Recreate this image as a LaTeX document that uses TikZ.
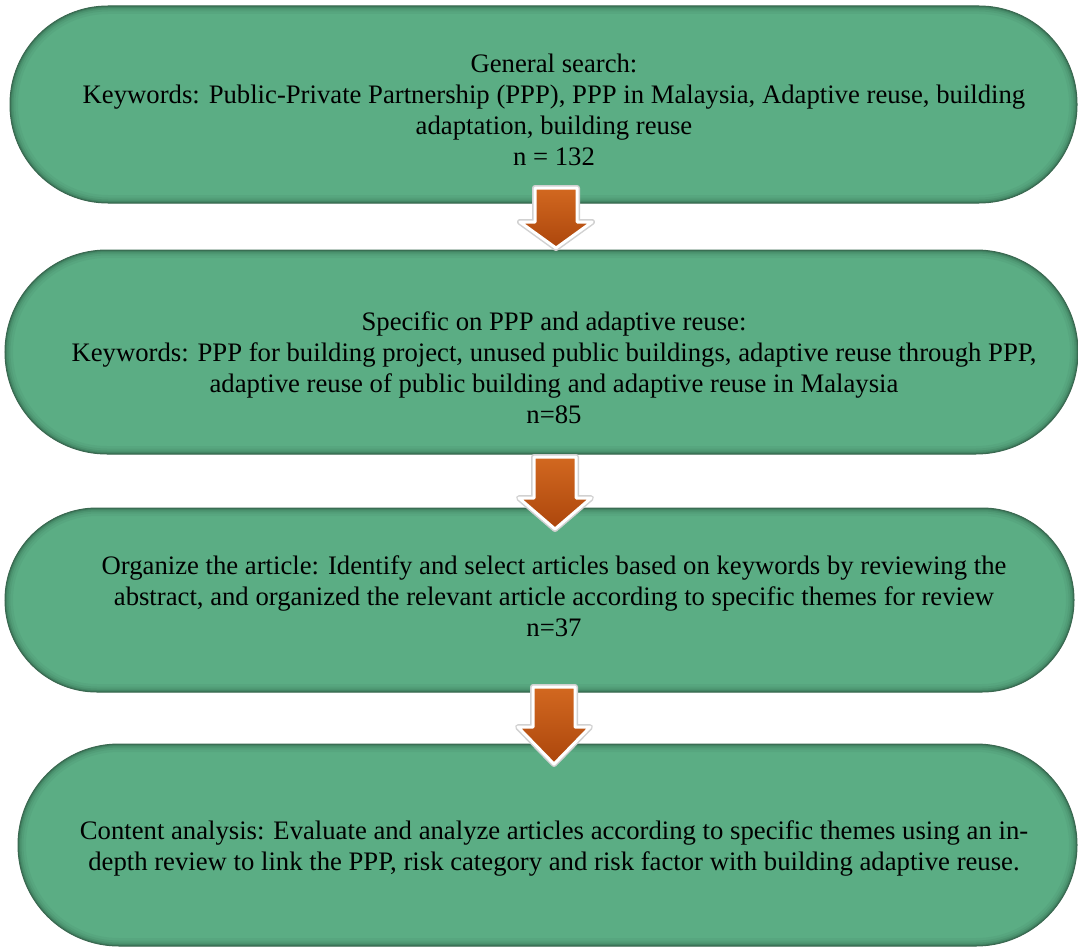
\documentclass[tikz,border=0pt]{standalone}
\usepackage{fontspec}
\setmainfont{Liberation Serif}
\definecolor{pillgreen}{RGB}{91,173,132}
\definecolor{pilledge}{RGB}{58,104,80}
\definecolor{pillshade}{RGB}{30,70,50}
\definecolor{arrtop}{RGB}{210,104,32}
\definecolor{arrbot}{RGB}{172,70,12}
\tikzset{
  pill/.style={draw=pilledge, line width=1pt, fill=pillgreen, rounded corners=#1, inner sep=0pt,
    path picture={
      \foreach \w/\o in {16/0.06, 11/0.08, 7/0.12, 4/0.16, 2/0.2}
        \draw[pillshade, line width=\w pt, opacity=\o, rounded corners=#1]
          (path picture bounding box.south west) rectangle (path picture bounding box.north east);
    }},
  pilltext/.style={align=center, font=\fontsize{26.7}{31}\selectfont, inner sep=0pt},
  barrow/.style={top color=arrtop, bottom color=arrbot, draw=white, line width=3pt, line join=round,
    preaction={draw=black!18, line width=6pt, line join=round}}
}
\newcommand{\blockarrow}[4]{% coordinate name, head start, tip
  \path[barrow] ([xshift=-21pt]#1) -- ([xshift=21pt]#1) -- ([xshift=21pt,yshift=-#2pt]#1)
    -- ([xshift=36pt,yshift=-#2pt]#1) -- ([yshift=-#3pt]#1) -- ([xshift=-36pt,yshift=-#2pt]#1)
    -- ([xshift=-21pt,yshift=-#2pt]#1) -- cycle;}
\begin{document}
\begin{tikzpicture}[x=1pt, y=-1pt]
\useasboundingbox (0,0) rectangle (1078,947);
% pills
\node[pill=98pt, minimum width=1067pt, minimum height=197pt] (p1) at (543.5,104.5) {};
\node[pill=102pt, minimum width=1073pt, minimum height=204pt] (p2) at (541.5,352) {};
\node[pill=92pt, minimum width=1069pt, minimum height=184pt] (p3) at (539.5,600) {};
\node[pill=101pt, minimum width=1059pt, minimum height=202pt] (p4) at (547.5,845) {};
% texts
\node[pilltext] (t1) at (554,110) {General search:\\Keywords: Public-Private Partnership (PPP), PPP in Malaysia, Adaptive reuse, building\\adaptation, building reuse\\n = 132};
\node[pilltext] (t2) at (554,367.5) {Specific on PPP and adaptive reuse:\\Keywords: PPP for building project, unused public buildings, adaptive reuse through PPP,\\adaptive reuse of public building and adaptive reuse in Malaysia\\n=85};
\node[pilltext] (t3) at (554,596) {Organize the article: Identify and select articles based on keywords by reviewing the\\abstract, and organized the relevant article according to specific themes for review\\n=37};
\node[pilltext] (t4) at (554,848.5) {Content analysis: Evaluate and analyze articles according to specific themes using an in-\\depth review to link the PPP, risk category and risk factor with building adaptive reuse.};
% arrows
\coordinate (a1) at (556,188);
\coordinate (a2) at (555,457);
\coordinate (a3) at (554,687);
\blockarrow{a1}{34}{60}{}
\blockarrow{a2}{41}{72}{}
\blockarrow{a3}{40}{77}{}
\end{tikzpicture}
\end{document}
